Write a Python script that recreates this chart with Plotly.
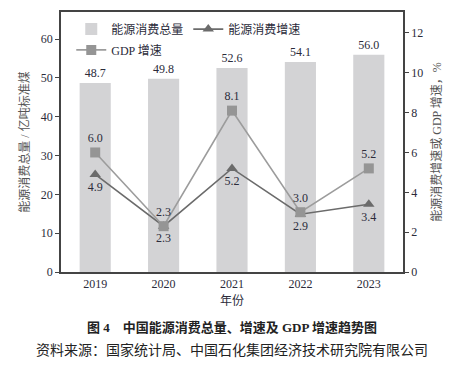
import plotly.graph_objects as go

years = ["2019", "2020", "2021", "2022", "2023"]
energy_total = [48.7, 49.8, 52.6, 54.1, 56.0]
energy_growth = [4.9, 2.3, 5.2, 2.9, 3.4]
gdp_growth = [6.0, 2.3, 8.1, 3.0, 5.2]

FONT = "Liberation Serif, Noto Sans CJK SC, serif"
TXT = "#2b2b3a"

fig = go.Figure()
fig.add_trace(go.Bar(
    x=years, y=energy_total, name="能源消费总量",
    marker=dict(color="#d3d3d5", line=dict(width=0)),
    text=[f"{v:.1f}" for v in energy_total], textposition="outside",
    textfont=dict(family=FONT, size=12, color=TXT),
    cliponaxis=False, legend="legend",
))
fig.add_trace(go.Scatter(
    x=years, y=energy_growth, name="能源消费增速", yaxis="y2",
    mode="lines+markers+text",
    line=dict(color="#6b6b6b", width=1.6),
    marker=dict(symbol="triangle-up", size=10, color="#6b6b6b"),
    text=[f"{v:.1f}" for v in energy_growth], textposition="bottom center",
    textfont=dict(family=FONT, size=12, color=TXT),
    cliponaxis=False, legend="legend",
))
fig.add_trace(go.Scatter(
    x=years, y=gdp_growth, name="GDP 增速", yaxis="y2",
    mode="lines+markers+text",
    line=dict(color="#9c9c9c", width=1.6),
    marker=dict(symbol="square", size=10, color="#959595"),
    text=[f"{v:.1f}" for v in gdp_growth], textposition="top center",
    textfont=dict(family=FONT, size=12, color=TXT),
    cliponaxis=False, legend="legend2",
))

axis_line = "#444444"
# page body has an 8px margin, so the figure is drawn 8px right/down
fig.update_layout(
    width=454, height=362,
    margin=dict(l=53, r=59, t=2, b=98),
    paper_bgcolor="white", plot_bgcolor="white",
    font=dict(family=FONT, size=12, color=TXT),
    bargap=0.545,
    showlegend=True,
    xaxis=dict(
        type="category", showline=True, linecolor=axis_line, linewidth=1.5,
        mirror=True, ticks="", showgrid=False,
        tickfont=dict(family=FONT, size=12, color=TXT),
        title=dict(text="年份", font=dict(family=FONT, size=12, color=TXT), standoff=6),
    ),
    yaxis=dict(
        range=[0, 67], tickvals=[0, 10, 20, 30, 40, 50, 60],
        showline=True, linecolor=axis_line, linewidth=1.5,
        ticks="outside", ticklen=4, tickcolor=axis_line, showgrid=False, zeroline=False,
        tickfont=dict(family=FONT, size=12, color=TXT),
        title=dict(text="能源消费总量 / 亿吨标准煤", font=dict(family=FONT, size=12, color="#555555"), standoff=9),
    ),
    yaxis2=dict(
        range=[0, 13.05], tickvals=[0, 2, 4, 6, 8, 10, 12], overlaying="y", side="right",
        showline=True, linecolor=axis_line, linewidth=1.5,
        ticks="outside", ticklen=4, tickcolor=axis_line, showgrid=False, zeroline=False,
        tickfont=dict(family=FONT, size=12, color=TXT),
        title=dict(text="能源消费增速或 GDP 增速，%", font=dict(family=FONT, size=12, color="#555555"), standoff=10),
    ),
    legend=dict(
        orientation="h", x=0.03, y=0.99, xanchor="left", yanchor="top",
        bgcolor="rgba(0,0,0,0)", font=dict(family=FONT, size=12, color=TXT),
        itemwidth=30, tracegroupgap=0,
    ),
    legend2=dict(
        orientation="h", x=0.03, y=0.91, xanchor="left", yanchor="top",
        bgcolor="rgba(0,0,0,0)", font=dict(family=FONT, size=12, color=TXT),
        itemwidth=30,
    ),
    annotations=[
        dict(text="<b>图 4　中国能源消费总量、增速及 GDP 增速趋势图</b>", xref="paper", yref="paper",
             x=0.5, y=-0.214, xanchor="center", yanchor="middle", showarrow=False,
             font=dict(family=FONT, size=13, color="#222222")),
        dict(text="资料来源：国家统计局、中国石化集团经济技术研究院有限公司", xref="paper", yref="paper",
             x=0.5, y=-0.30, xanchor="center", yanchor="middle", showarrow=False,
             font=dict(family=FONT, size=14, color="#222222")),
    ],
)

fig.write_html("out.html")
